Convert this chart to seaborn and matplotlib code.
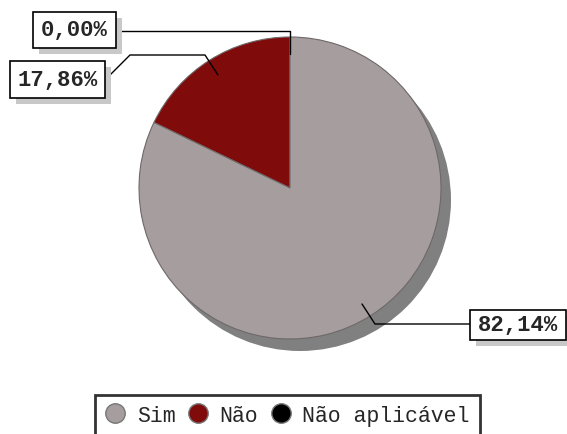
import matplotlib
matplotlib.use("Agg")
import matplotlib.pyplot as plt
from matplotlib.lines import Line2D
from matplotlib.patches import Circle
import seaborn as sns

categories = ["Sim", "Não", "Não aplicável"]
values = [82.14, 17.86, 0.00]
labels = ["82,14%", "17,86%", "0,00%"]
colors = ["#a69e9e", "#800b0b", "#000000"]

sns.set_style("white")
plt.rcParams["font.family"] = ["Liberation Mono", "DejaVu Sans Mono"]

W, H = 567, 435
fig = plt.figure(figsize=(W / 100, H / 100), dpi=100)
ax = fig.add_axes([0, 0, 1, 1])

cx, cy, r = 290, H - 189, 151

# shadow
ax.add_patch(Circle((cx + 10, cy - 12), r, facecolor="#808080", edgecolor="none", zorder=1))

# pie drawn with order: Não aplicável (0) at top, then Não, then Sim counterclockwise
order = [2, 1, 0]
wedges, _ = ax.pie([values[i] for i in order], colors=[colors[i] for i in order],
                   startangle=90, counterclock=True, center=(cx, cy), radius=r,
                   wedgeprops=dict(edgecolor="#6e6868", linewidth=0.8),
                   frame=True)
for w in wedges:
    w.set_zorder(2)
ax.set_xlim(0, W)
ax.set_ylim(0, H)
ax.set_aspect("equal")
ax.axis("off")

def ypx(y):
    return H - y

def box(y_top, x0, x1, y1, text):
    ax.add_patch(plt.Rectangle((x0 + 6, ypx(y1) - 6), x1 - x0, y1 - y_top,
                               facecolor="#c8c8c8", edgecolor="none", zorder=4))
    ax.add_patch(plt.Rectangle((x0, ypx(y1)), x1 - x0, y1 - y_top,
                               facecolor="white", edgecolor="black", linewidth=1.2, zorder=5))
    ax.text((x0 + x1) / 2, ypx((y_top + y1) / 2), text, ha="center", va="center",
            fontsize=16, fontweight="bold", zorder=6)

lk = dict(color="black", linewidth=1.0, zorder=3)
# 82,14%
ax.plot([362, 375, 470], [ypx(305), ypx(325), ypx(325)], **lk)
box(311, 470, 566, 341, labels[0])
# 17,86%
ax.plot([106, 130, 205, 218], [ypx(80), ypx(56), ypx(56), ypx(76)], **lk)
box(62, 10, 105, 99, labels[1])
# 0,00%
ax.plot([116, 290, 290], [ypx(32), ypx(32), ypx(55)], **lk)
box(13, 33, 116, 49, labels[2])

handles = [Line2D([0], [0], marker="o", linestyle="none", markersize=14,
                  markerfacecolor=c, markeredgecolor="#777777", markeredgewidth=1.0)
           for c in colors]
leg = ax.legend(handles, categories, loc="upper left",
                bbox_to_anchor=(95 / W, 1 - 396 / H), bbox_transform=fig.transFigure,
                ncol=3, frameon=True, fontsize=15.5, handletextpad=0.5,
                columnspacing=0.55, borderaxespad=0, borderpad=0.45, handlelength=1.0,
                fancybox=False)
leg.get_frame().set_edgecolor("black")
leg.get_frame().set_linewidth(2.0)

fig.savefig("out.png", dpi=100)
